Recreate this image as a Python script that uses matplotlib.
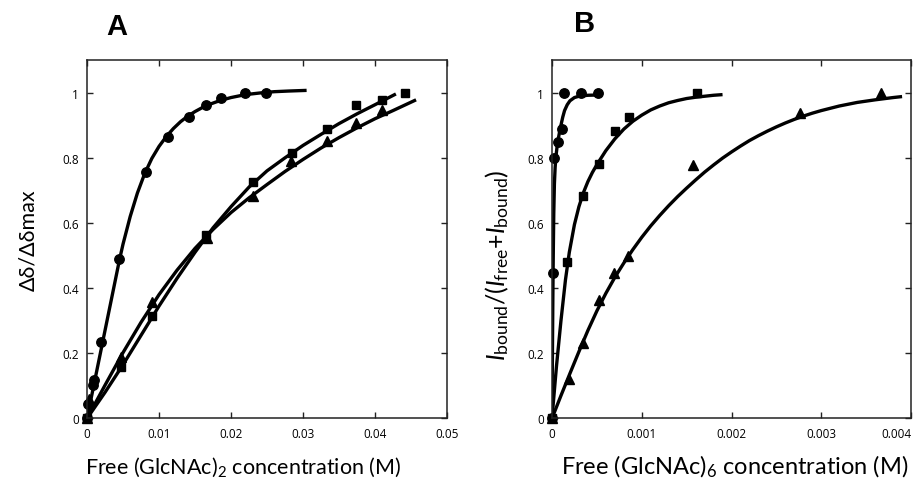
import matplotlib
matplotlib.use("Agg")
import matplotlib.pyplot as plt
from matplotlib.ticker import FixedLocator, FixedFormatter

plt.rcParams['font.family'] = ['Lato', 'DejaVu Sans']
plt.rcParams['mathtext.fontset'] = 'custom'
plt.rcParams['mathtext.rm'] = 'Lato'
plt.rcParams['mathtext.it'] = 'Lato:italic'
plt.rcParams['mathtext.bf'] = 'Lato:bold'

# ---------------- Panel A data ----------------
a_circ_x = [0, 0.0002, 0.0008, 0.001, 0.0019, 0.0045, 0.0082, 0.0113, 0.0141, 0.0165, 0.0186, 0.0220, 0.0249]
a_circ_y = [0, 0.044, 0.103, 0.117, 0.236, 0.488, 0.756, 0.865, 0.926, 0.962, 0.984, 1.0, 1.0]
a_sq_x = [0, 0.0047, 0.0090, 0.0165, 0.0231, 0.0285, 0.0333, 0.0374, 0.0410, 0.0442]
a_sq_y = [0, 0.159, 0.313, 0.562, 0.727, 0.814, 0.888, 0.962, 0.976, 1.0]
a_tri_x = [0, 0.0003, 0.0047, 0.0090, 0.0166, 0.0231, 0.0284, 0.0333, 0.0374, 0.0410]
a_tri_y = [0, 0.059, 0.19, 0.358, 0.555, 0.684, 0.791, 0.853, 0.906, 0.947]

# fitted curves
a_circ_fit_x = [0, 0.001, 0.002, 0.003, 0.004, 0.0045, 0.005, 0.006, 0.007, 0.008, 0.009, 0.010,
                0.011, 0.012, 0.013, 0.014, 0.015, 0.016, 0.017, 0.018, 0.019, 0.020, 0.022,
                0.024, 0.026, 0.028, 0.0305]
a_circ_fit_y = [0, 0.108, 0.216, 0.324, 0.432, 0.486, 0.535, 0.620, 0.692, 0.751, 0.798, 0.835,
                0.865, 0.890, 0.911, 0.928, 0.942, 0.954, 0.964, 0.972, 0.979, 0.985, 0.994,
                0.999, 1.003, 1.005, 1.007]
a_sq_fit_x = [0, 0.0025, 0.005, 0.0075, 0.010, 0.0125, 0.015, 0.0175, 0.020, 0.0225, 0.025,
              0.0275, 0.030, 0.0325, 0.035, 0.0375, 0.040, 0.0429]
a_sq_fit_y = [0, 0.080, 0.165, 0.255, 0.345, 0.430, 0.510, 0.585, 0.650, 0.710, 0.760,
              0.800, 0.838, 0.872, 0.905, 0.935, 0.963, 0.996]
a_tri_fit_x = [0, 0.0025, 0.005, 0.0075, 0.010, 0.0125, 0.015, 0.0175, 0.020, 0.0225, 0.025,
               0.0275, 0.030, 0.0325, 0.035, 0.0375, 0.040, 0.0425, 0.0457]
a_tri_fit_y = [0, 0.102, 0.202, 0.295, 0.380, 0.455, 0.522, 0.580, 0.632, 0.677, 0.718,
               0.758, 0.795, 0.830, 0.862, 0.892, 0.920, 0.945, 0.978]

# ---------------- Panel B data ----------------
b_circ_x = [0, 0.000007, 0.000022, 0.00007, 0.000108, 0.000134, 0.000327, 0.000512]
b_circ_y = [0, 0.445, 0.80, 0.85, 0.889, 1.0, 1.0, 1.0]
b_sq_x = [0, 0.000163, 0.000345, 0.000523, 0.000698, 0.000857, 0.001618]
b_sq_y = [0, 0.48, 0.682, 0.781, 0.883, 0.925, 1.0]
b_tri_x = [0, 0.000193, 0.000349, 0.00052, 0.00069, 0.00085, 0.001574, 0.00276, 0.003664]
b_tri_y = [0, 0.12, 0.233, 0.365, 0.445, 0.5, 0.779, 0.939, 0.998]

b_circ_fit_x = [0, 0.000005, 0.00001, 0.000015, 0.00002, 0.000027, 0.000035, 0.0000445, 0.000055,
                0.00007, 0.000085, 0.0001, 0.00012, 0.00014, 0.00017, 0.0002, 0.00025, 0.0003,
                0.0004, 0.000535]
b_circ_fit_y = [0, 0.20, 0.38, 0.52, 0.63, 0.72, 0.77, 0.805, 0.83,
                0.858, 0.88, 0.90, 0.925, 0.945, 0.963, 0.975, 0.985, 0.989,
                0.992, 0.993]
b_sq_fit_x = [0, 0.00005, 0.0001, 0.00015, 0.000193, 0.00025, 0.0003, 0.00035, 0.0004, 0.00045,
              0.0005, 0.0006, 0.0007, 0.0008, 0.0009, 0.001, 0.0011, 0.0012, 0.0013, 0.0014,
              0.0015, 0.0016, 0.0017, 0.0018, 0.0019]
b_sq_fit_y = [0, 0.16, 0.30, 0.425, 0.51, 0.595, 0.650, 0.693, 0.727, 0.755,
              0.779, 0.822, 0.858, 0.888, 0.912, 0.931, 0.947, 0.959, 0.969, 0.976,
              0.982, 0.986, 0.989, 0.992, 0.994]
b_tri_fit_x = [0, 0.0001, 0.0002, 0.0003, 0.0004, 0.0005, 0.0006, 0.0007, 0.0008, 0.0009, 0.001,
               0.0011, 0.0012, 0.0013, 0.0014, 0.0015, 0.0016, 0.0017, 0.0018, 0.0019, 0.002,
               0.0021, 0.0022, 0.0023, 0.0024, 0.0025, 0.0026, 0.0027, 0.0028, 0.0029, 0.003,
               0.0032, 0.0034, 0.0036, 0.0038, 0.0039]
b_tri_fit_y = [0, 0.070, 0.138, 0.205, 0.270, 0.330, 0.384, 0.433, 0.477, 0.518, 0.556,
               0.591, 0.623, 0.653, 0.681, 0.707, 0.732, 0.756, 0.778, 0.799, 0.818,
               0.836, 0.853, 0.868, 0.882, 0.895, 0.907, 0.918, 0.928, 0.937, 0.945,
               0.959, 0.970, 0.978, 0.985, 0.988]

y_ticks = [0, 0.2, 0.4, 0.6, 0.8, 1.0]
y_tick_labels = ['0', '0.2', '0.4', '0.6', '0.8', '1']
a_x_ticks = [0, 0.01, 0.02, 0.03, 0.04, 0.05]
a_x_tick_labels = ['0', '0.01', '0.02', '0.03', '0.04', '0.05']
b_x_ticks = [0, 0.001, 0.002, 0.003, 0.004]
b_x_tick_labels = ['0', '0.001', '0.002', '0.003', '0.004']

fig = plt.figure(figsize=(9.16, 4.81), dpi=100)
axA = fig.add_axes([0.095, 0.128, 0.393, 0.745])
axB = fig.add_axes([0.6026, 0.128, 0.392, 0.745])

LW = 2.4
MS = 6.8

def style(ax, xt, xtl, xlim):
    ax.set_xlim(*xlim)
    ax.set_ylim(0, 1.1)
    ax.xaxis.set_major_locator(FixedLocator(xt))
    ax.xaxis.set_major_formatter(FixedFormatter(xtl))
    ax.yaxis.set_major_locator(FixedLocator(y_ticks))
    ax.yaxis.set_major_formatter(FixedFormatter(y_tick_labels))
    ax.tick_params(direction='in', top=True, right=True, length=4.5, width=1.0,
                   labelsize=8.5, color='#222222', pad=6)
    for lab in ax.get_xticklabels() + ax.get_yticklabels():
        lab.set_family(['Open Sans', 'DejaVu Sans'])
    for s in ax.spines.values():
        s.set_linewidth(1.1)
        s.set_color('#222222')

def draw(ax, fits, pts):
    for fx, fy in fits:
        ax.plot(fx, fy, color='black', lw=LW, solid_joinstyle='round', solid_capstyle='butt')
    (cx, cy), (sx, sy), (tx, ty) = pts
    ax.plot(cx, cy, 'o', color='black', ms=MS, clip_on=False)
    ax.plot(sx, sy, 's', color='black', ms=MS - 0.5, clip_on=False)
    ax.plot(tx, ty, '^', color='black', ms=MS + 0.3, clip_on=False)

# Panel A
draw(axA, [(a_circ_fit_x, a_circ_fit_y), (a_sq_fit_x, a_sq_fit_y), (a_tri_fit_x, a_tri_fit_y)],
     [(a_circ_x, a_circ_y), (a_sq_x, a_sq_y), (a_tri_x, a_tri_y)])
style(axA, a_x_ticks, a_x_tick_labels, (0, 0.05))
axA.set_xlabel(r'Free (GlcNAc)$_2$ concentration (M)', fontsize=15.5, va='center')
axA.xaxis.set_label_coords(0.433, -0.133)
axA.set_ylabel('Δδ/Δδmax', fontsize=15.5, va='center')
axA.yaxis.set_label_coords(-0.164, 0.5)

# Panel B
draw(axB, [(b_circ_fit_x, b_circ_fit_y), (b_sq_fit_x, b_sq_fit_y), (b_tri_fit_x, b_tri_fit_y)],
     [(b_circ_x, b_circ_y), (b_sq_x, b_sq_y), (b_tri_x, b_tri_y)])
style(axB, b_x_ticks, b_x_tick_labels, (0, 0.004))
axB.get_xticklabels()[-1].set_ha('right')
axB.set_xlabel(r'Free (GlcNAc)$_6$ concentration (M)', fontsize=17, va='center')
axB.xaxis.set_label_coords(0.51, -0.133)
axB.set_ylabel(r'$I_{\mathrm{bound}}$/($I_{\mathrm{free}}$+$I_{\mathrm{bound}}$)', fontsize=18, va='center')
axB.yaxis.set_label_coords(-0.153, 0.43)

fig.text(117 / 916, 1 - 27 / 481, 'A', fontsize=21, fontweight='bold',
         family='Liberation Sans', ha='center', va='center')
fig.text(585 / 916, 1 - 23.5 / 481, 'B', fontsize=21, fontweight='bold',
         family='Liberation Sans', ha='center', va='center')

fig.savefig('out.png', dpi=100)
